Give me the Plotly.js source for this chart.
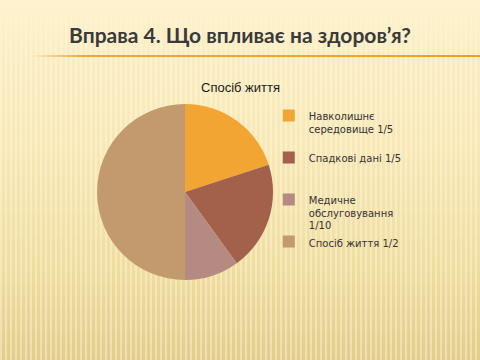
<!DOCTYPE html>
<html><head><meta charset="utf-8">
<script src="https://cdn.plot.ly/plotly-3.0.1.min.js"></script>
<style>
html,body{margin:0;padding:0;}
body{width:480px;height:360px;overflow:hidden;position:relative;
background:linear-gradient(180deg,#FEF3CF 0%,#FCEDBF 40%,#F3E2A8 75%,#E7D291 100%);}
#stripes{position:absolute;left:0;top:0;width:480px;height:360px;
background:repeating-linear-gradient(90deg,rgba(255,255,255,0.30) 0 2px,rgba(200,170,90,0.12) 2px 5px);
-webkit-mask-image:linear-gradient(180deg,rgba(0,0,0,0) 0%,rgba(0,0,0,0.5) 20%,rgba(0,0,0,0.6) 60%,rgba(0,0,0,1) 100%);
mask-image:linear-gradient(180deg,rgba(0,0,0,0) 0%,rgba(0,0,0,0.5) 20%,rgba(0,0,0,0.6) 60%,rgba(0,0,0,1) 100%);}
#rule{position:absolute;left:30px;top:55px;width:450px;height:2px;
background:linear-gradient(90deg,rgba(236,160,40,0) 0%,rgba(236,160,40,0.9) 12%,#EBA02C 100%);}
#chart{position:absolute;left:0;top:0;width:480px;height:360px;}
</style></head>
<body>
<div id="stripes"></div>
<div id="rule"></div>
<div id="chart"></div>
<script>
const slideTitle = 'Вправа 4. Що впливає на здоров\u2019я?';
const chartTitle = 'Спосіб життя';
const categories = ['Навколишнє<br>середовище 1/5', 'Спадкові дані 1/5', 'Медичне<br>обслуговування<br>1/10', 'Спосіб життя 1/2'];
const values = [0.2, 0.2, 0.1, 0.5];
const colors = ['#F2A532', '#A3614B', '#B48A82', '#C39A6D'];
// extra blank lines only mimic the original legend's vertical spacing
const pad = ['<br> ', '<br> <br> ', '', ''];

const trace = {
  type: 'pie',
  labels: categories.map((c, i) => c + pad[i]),
  values: values,
  sort: false,
  direction: 'clockwise',
  rotation: 0,
  textinfo: 'none',
  hoverinfo: 'label+percent',
  marker: {colors: colors, line: {width: 0}},
  domain: {x: [0.2021, 0.5688], y: [0.2222, 0.7111]}
};

const layout = {
  width: 480, height: 360,
  margin: {l: 0, r: 0, t: 0, b: 0},
  paper_bgcolor: 'rgba(0,0,0,0)',
  plot_bgcolor: 'rgba(0,0,0,0)',
  title: {text: slideTitle, x: 0.5, xanchor: 'center', y: 0.9, yanchor: 'middle',
          font: {family: 'Lato, Liberation Sans, sans-serif', size: 21, weight: 'bold', color: '#3A3A3A'}},
  showlegend: true,
  legend: {x: 0.56, xanchor: 'left', y: 0.715, yanchor: 'top', valign: 'top',
           bgcolor: 'rgba(0,0,0,0)', font: {family: 'DejaVu Sans, sans-serif', size: 10, color: '#333333'},
           itemwidth: 30, traceorder: 'normal'},
  annotations: [{text: chartTitle, x: 0.502, xref: 'paper', y: 0.757, yref: 'paper', showarrow: false,
                 xanchor: 'center', yanchor: 'middle',
                 font: {family: 'Liberation Sans, sans-serif', size: 13, color: '#1A1A1A'}}]
};

Plotly.newPlot('chart', [trace], layout, {displayModeBar: false, staticPlot: true});
</script>
</body></html>
